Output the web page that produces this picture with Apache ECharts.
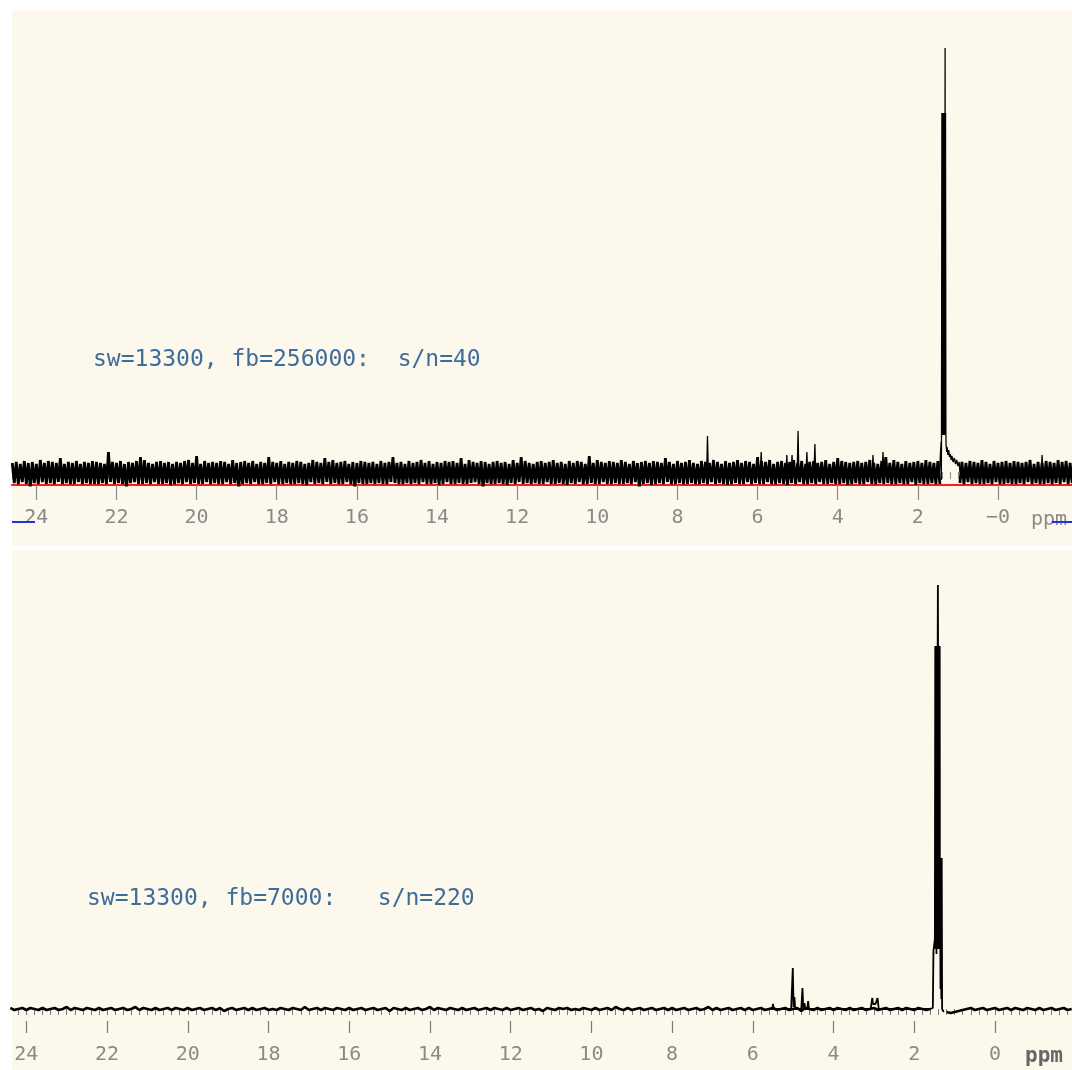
<!DOCTYPE html>
<html>
<head>
<meta charset="utf-8">
<script src="https://cdn.jsdelivr.net/npm/echarts@6/dist/echarts.min.js"></script>
<style>
html,body{margin:0;padding:0;background:#ffffff;}
#chart{width:1072px;height:1070px;}
</style>
</head>
<body>
<div id="chart"></div>
<script>
// ---------------- DATA ----------------
// Tick labels (ppm)
const majorTicks = [24, 22, 20, 18, 16, 14, 12, 10, 8, 6, 4, 2, 0];

// Upper spectrum (fb=256000): baseline noise sampled on a uniform ppm grid
const topNoiseStart = 24.6;   // ppm of first sample
const topNoiseStep = 0.05;    // ppm between samples (descending)
const topNoise = [
  9,-11,10,-12,8,-10,11,-12,9,-16,10,-11,8,-12,12,-10,9,-12,11,-11,
  10,-12,9,-10,14,-12,8,-11,10,-12,9,-12,11,-10,8,-12,10,-11,9,-12,
  11,-12,10,-12,9,-11,8,-12,20,-10,10,-12,9,-11,11,-12,8,-17,10,-11,
  9,-10,11,-12,15,-12,12,-11,9,-12,8,-10,10,-12,11,-12,9,-11,10,-13,
  8,-12,10,-11,9,-12,11,-10,12,-12,9,-11,16,-12,8,-12,11,-10,9,-12,
  10,-11,9,-12,11,-12,10,-10,8,-12,12,-11,9,-18,10,-12,11,-11,9,-12,
  11,-10,8,-12,10,-12,9,-11,15,-12,10,-10,9,-12,11,-12,8,-11,10,-12,
  9,-12,11,-11,10,-12,8,-13,9,-10,12,-12,10,-11,9,-12,14,-10,10,-12,
  12,-11,9,-12,10,-12,11,-10,8,-12,10,-16,9,-11,11,-12,10,-12,9,-11,
  10,-12,8,-11,11,-12,9,-12,10,-10,15,-11,9,-12,10,-12,8,-11,11,-12,
  9,-11,10,-12,12,-10,9,-12,11,-12,8,-11,10,-13,9,-12,11,-10,10,-12,
  11,-12,9,-11,14,-12,8,-12,12,-11,10,-10,9,-12,11,-17,10,-11,8,-12,
  10,-12,11,-11,9,-12,10,-13,8,-11,12,-12,9,-10,15,-12,11,-11,9,-12,
  8,-11,10,-12,11,-12,9,-10,10,-12,12,-12,9,-11,10,-12,8,-13,11,-11,
  9,-12,11,-10,10,-12,8,-12,16,-11,9,-12,12,-12,10,-10,9,-12,11,-12,
  10,-11,9,-12,12,-12,10,-11,8,-12,11,-10,9,-16,10,-12,11,-11,9,-13,
  11,-12,10,-11,9,-12,14,-10,10,-12,8,-12,11,-11,9,-12,10,-12,12,-11,
  9,-12,8,-12,11,-11,10,-12,9,-10,12,-12,10,-11,8,-12,11,-13,9,-12,
  10,-11,12,-12,9,-12,11,-10,10,-12,8,-11,15,-12,11,-12,10,-10,12,-12,
  8,-12,10,-11,11,-12,9,-13,10,-11,12,-12,9,-10,11,-12,8,-12,10,-11,
  11,-12,9,-10,10,-12,12,-12,8,-11,10,-12,14,-12,11,-11,10,-13,9,-12,
  10,-11,11,-12,9,-12,10,-10,12,-12,9,-12,8,-11,11,-12,15,-11,9,-12,
  12,-12,10,-11,8,-12,11,-12,9,-10,10,-13,11,-11,9,-12,12,-12,10,-11,
  9,-12,11,-12,null,null,null,null,null,null,null,null,null,-11,10,-12,9,-10,11,-12,
  10,-11,9,-12,12,-12,10,-11,8,-12,11,-10,9,-12,10,-12,11,-11,9,-12,
  11,-12,10,-11,9,-12,10,-10,12,-12,8,-11,10,-12,9,-12,11,-11,10,-12,
  9,-11,12,-12,10,-10,11,-12,9,-11
];
// Upper spectrum signals [ppm, intensity]
const topSignals = [
  [7.27,0],[7.25,36],[7.23,0],
  [5.93,0],[5.91,20],[5.89,0],
  [5.29,0],[5.27,17],[5.25,0],[5.16,0],[5.14,17],[5.12,0],
  [5.01,0],[4.99,41],[4.97,0],
  [4.79,0],[4.77,20],[4.75,0],
  [4.59,0],[4.57,28],[4.55,0],
  [3.14,0],[3.12,17],[3.10,0],[2.89,0],[2.87,20],[2.85,0],
  [1.46,0],[1.43,2],[1.42,30],[1.415,-8],[1.41,33],[1.40,359],[1.39,37],[1.38,359],
  [1.37,37],[1.36,359],[1.35,37],[1.34,359],[1.33,37],[1.32,424],[1.315,37],[1.31,359],
  [1.30,37],[1.295,27],[1.28,20],[1.27,25],[1.25,17],[1.23,22],[1.21,15],[1.19,18],[1.17,12],
  [1.15,16],[1.12,10],[1.09,14],[1.06,8],[1.03,12],[1.00,6],[0.97,10],[0.95,0],
  [-1.08,0],[-1.10,17],[-1.12,0]
];

// Lower spectrum (fb=7000)
const botNoiseStart = 24.4;
const botNoiseStep = 0.1;
const botNoise = [
  1,-1,0,1,-1,1,0,-1,1,-1,0,1,-1,0,2,-1,1,0,-1,1,
  0,-1,1,-1,0,1,-1,0,1,-1,0,2,-1,1,0,-1,1,-1,0,1,
  -1,1,0,-1,1,-1,0,1,-1,0,1,-1,1,-2,0,1,-1,0,1,-1,
  1,-1,0,1,-1,0,-1,1,0,-1,1,0,-1,2,-1,0,1,-1,1,0,
  -1,1,0,-1,1,-1,0,1,-1,0,1,-1,0,1,-2,1,0,-1,1,-1,
  0,1,-1,0,2,-1,1,0,-1,1,0,-1,1,-1,0,1,-1,0,1,-1,
  1,0,-1,1,-1,0,1,-1,0,1,-1,0,-2,1,0,-1,1,0,1,-1,
  0,-1,1,0,-1,1,-1,0,1,-1,2,0,-1,1,-1,0,1,-1,0,1,
  -1,0,1,-1,1,-1,0,1,-1,0,1,-1,0,2,-1,1,-1,0,1,-1,
  0,1,-1,1,-1,0,1,-1,0,1,-1,0,1,-1,0,1,-2,1,0,-1,
  1,-1,0,1,-1,1,0,-1,1,-1,0,1,-1,0,1,-1,0,1,-1,0,
  1,-1,1,0,-1,1,0,-1,0,null,null,null,-3,-4,-3,-2,-1,0,1,-1,
  0,1,-1,0,1,-1,0,1,-1,1,0,-1,1,0,-1,1,-1,0,1,-1,
  0,1,-1,0
];
const botSignals = [
  [5.60,0],[5.52,0],[5.50,5],[5.48,0],
  [5.05,0],[5.01,41],[4.99,2],[4.97,12],[4.95,0],
  [4.80,0],[4.77,21],[4.75,0],[4.72,6],[4.70,0],
  [4.65,0],[4.63,8],[4.61,0],
  [3.08,0],[3.04,11],[3.02,5],[2.96,5],[2.91,11],[2.88,0],
  [1.62,0],[1.54,1],[1.525,58],[1.505,58],[1.49,70],[1.48,363],[1.47,60],[1.46,363],
  [1.45,55],[1.44,363],[1.43,60],[1.42,363],[1.415,424],[1.41,363],[1.40,60],[1.39,363],
  [1.38,60],[1.37,363],[1.365,60],[1.36,151],[1.35,20],[1.34,151],[1.33,10],[1.32,151],
  [1.31,0],[1.30,-2],[1.27,-3]
];

const topText = 'sw=13300, fb=256000:  s/n=40';
const botText = 'sw=13300, fb=7000:   s/n=220';

// ---------------- BUILD ----------------
function onGrid(start, step, vals) {
  return vals.map(function (v, i) {
    return [+(start - step * i).toFixed(4), v === null ? '-' : v];
  });
}
function minorList(from, to, step) {
  const out = [];
  const n = Math.round((to - from) / step);
  for (let k = 0; k <= n; k++) {
    out.push(+(from + k * step).toFixed(3));
  }
  return out;
}
const minorTicks = minorList(-1.8, 24.6, 0.2);

const labelFont = { fontFamily: '"DejaVu Sans Mono", monospace', fontSize: 20, color: '#8a8a8a' };

function majorAxis(gi, min, max, opts) {
  return {
    type: 'value', gridIndex: gi, position: 'bottom', inverse: true, min: min, max: max,
    axisLine: opts.line,
    splitLine: { show: false },
    axisTick: { show: true, customValues: majorTicks, length: opts.majLen, lineStyle: { color: opts.tickColor, width: 1.2 } },
    axisLabel: Object.assign({
      show: true, customValues: majorTicks, margin: opts.margin,
      formatter: opts.fmt
    }, labelFont)
  };
}
function minorAxis(gi, min, max, len, color) {
  return {
    type: 'value', gridIndex: gi, position: 'bottom', inverse: true, min: min, max: max,
    axisLine: { show: false }, splitLine: { show: false },
    axisTick: { show: true, customValues: minorTicks, length: len, lineStyle: { color: color, width: 1 } },
    axisLabel: { show: false }
  };
}

const option = {
  animation: false,
  backgroundColor: '#ffffff',
  grid: [
    { left: 12, right: 0, top: 10, bottom: 585 },
    { left: 12, right: 0, top: 550, bottom: 49 }
  ],
  xAxis: [
    majorAxis(0, -1.847, 24.607, {
      line: { show: true, onZero: false, lineStyle: { color: '#ff1a1a', width: 2 } },
      majLen: 15, tickColor: '#8a8a8a', margin: 23,
      fmt: function (v) { return v === 0 ? '\u22120' : String(v); }
    }),
    minorAxis(0, -1.847, 24.607, 7, '#8a8a8a'),
    majorAxis(1, -1.908, 24.356, {
      line: { show: false, onZero: false },
      majLen: 12, tickColor: '#7a7a7a', margin: 24,
      fmt: function (v) { return String(v); }
    }),
    minorAxis(1, -1.908, 24.356, 6, '#7a7a7a')
  ],
  yAxis: [
    { type: 'value', gridIndex: 0, min: -13, max: 462, show: false },
    { type: 'value', gridIndex: 1, min: -12, max: 459, show: false }
  ],
  graphic: [
    { type: 'rect', z: -10, silent: true, shape: { x: 12, y: 10, width: 1060, height: 536 }, style: { fill: '#fdf8ec' } },
    { type: 'rect', z: -10, silent: true, shape: { x: 12, y: 550, width: 1060, height: 520 }, style: { fill: '#fdf8ec' } },
    { type: 'text', z: 50, x: 93, y: 360, style: { text: topText, font: '23px "DejaVu Sans Mono", monospace', fill: '#3e6d9c', verticalAlign: 'middle' } },
    { type: 'text', z: 50, x: 87, y: 899, style: { text: botText, font: '23px "DejaVu Sans Mono", monospace', fill: '#3e6d9c', verticalAlign: 'middle' } },
    { type: 'text', z: 50, x: 1031, y: 520, style: { text: 'ppm', font: '20px "DejaVu Sans Mono", monospace', fill: '#8a8a8a', verticalAlign: 'middle' } },
    { type: 'text', z: 50, x: 1025, y: 1057, style: { text: 'ppm', font: 'bold 21px "DejaVu Sans Mono", monospace', fill: '#666666', verticalAlign: 'middle' } },
    { type: 'line', z: 60, shape: { x1: 12, y1: 522, x2: 35, y2: 522 }, style: { stroke: '#2233dd', lineWidth: 2 } },
    { type: 'line', z: 60, shape: { x1: 1052, y1: 522, x2: 1072, y2: 522 }, style: { stroke: '#2233dd', lineWidth: 2 } }
  ],
  series: [
    {
      type: 'line', xAxisIndex: 0, yAxisIndex: 0, data: onGrid(topNoiseStart, topNoiseStep, topNoise),
      symbol: 'none', silent: true, connectNulls: false,
      lineStyle: { color: '#000000', width: 2.8, join: 'bevel' }
    },
    {
      type: 'line', xAxisIndex: 0, yAxisIndex: 0, data: topSignals,
      symbol: 'none', silent: true,
      lineStyle: { color: '#000000', width: 1.3, join: 'bevel' }
    },
    {
      type: 'line', xAxisIndex: 2, yAxisIndex: 1, data: onGrid(botNoiseStart, botNoiseStep, botNoise),
      symbol: 'none', silent: true, connectNulls: false,
      lineStyle: { color: '#000000', width: 2.6, join: 'bevel' }
    },
    {
      type: 'line', xAxisIndex: 2, yAxisIndex: 1, data: botSignals,
      symbol: 'none', silent: true,
      lineStyle: { color: '#000000', width: 1.8, join: 'bevel' }
    }
  ]
};

const chart = echarts.init(document.getElementById('chart'), null, { renderer: 'canvas' });
chart.setOption(option);
</script>
</body>
</html>
